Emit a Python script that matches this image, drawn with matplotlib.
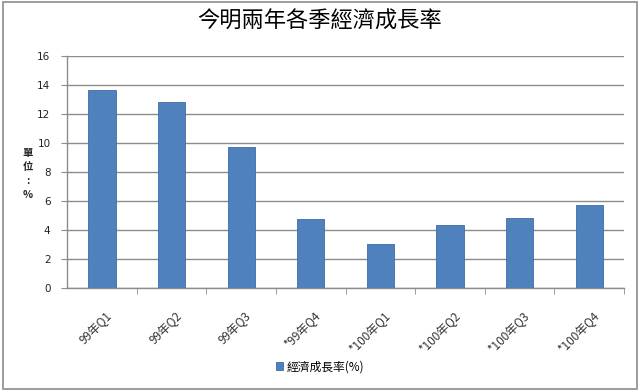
import matplotlib
matplotlib.use("Agg")
import matplotlib.pyplot as plt
from matplotlib.patches import Rectangle

plt.rcParams['font.family'] = ['Noto Sans CJK TC', 'DejaVu Sans']

# --- data ---
quarters = ["99年Q1", "99年Q2", "99年Q3", "*99年Q4",
            "*100年Q1", "*100年Q2", "*100年Q3", "*100年Q4"]
growth = [13.6, 12.8, 9.7, 4.7, 3.0, 4.3, 4.8, 5.7]
series_name = "經濟成長率(%)"
y_ticks = [0, 2, 4, 6, 8, 10, 12, 14, 16]

bar_color = "#4F81BD"
grid_color = "#8C8C8C"

fig = plt.figure(figsize=(6.4, 3.91), dpi=100)
ax = fig.add_axes([0.105, 0.2645, 0.87, 0.5935])

x = list(range(len(quarters)))
ax.bar(x, growth, width=0.39, color=bar_color, edgecolor="#3D6CA8",
       linewidth=0.6, zorder=3, label=series_name)

ax.set_xlim(-0.5, len(quarters) - 0.5)
ax.set_ylim(0, 16)
ax.set_yticks(y_ticks)
ax.set_yticklabels([str(v) for v in y_ticks], fontsize=7.5,
                   family='DejaVu Sans', color='#222222')
ax.yaxis.grid(True, color=grid_color, linewidth=1.0, zorder=0)
ax.tick_params(axis='y', length=4, color=grid_color, pad=8)

ax.set_xticks([i + 0.05 for i in x])
ax.set_xticklabels(quarters, rotation=45, ha='right', rotation_mode='anchor',
                   fontsize=8.5, color='#333333')
ax.tick_params(axis='x', length=0, pad=16)
ax.set_xticks([i + 0.5 for i in range(len(quarters))], minor=True)
ax.tick_params(axis='x', which='minor', length=4, color=grid_color)

for s in ['top', 'right']:
    ax.spines[s].set_visible(False)
for s in ['left', 'bottom']:
    ax.spines[s].set_color(grid_color)
    ax.spines[s].set_linewidth(1.0)

# title and stacked unit label
fig.text(0.5, 0.945, "今明兩年各季經濟成長率", ha='center', va='center',
         fontsize=16, color='black')
fig.text(0.043, 0.555, "單\n位\n:\n%", ha='center', va='center',
         fontsize=7.5, fontweight='bold', linespacing=1.5, color='#222222')

fig.legend(loc='center', bbox_to_anchor=(0.5, 0.062), frameon=False,
           fontsize=8.5, handlelength=0.6, handleheight=0.6, handletextpad=0.3)

# outer border
fig.patches.append(Rectangle((0.004, 0.006), 0.992, 0.988,
                             transform=fig.transFigure, fill=False,
                             edgecolor='#8C8C8C', linewidth=1.2))

fig.savefig("out.png", dpi=100)
